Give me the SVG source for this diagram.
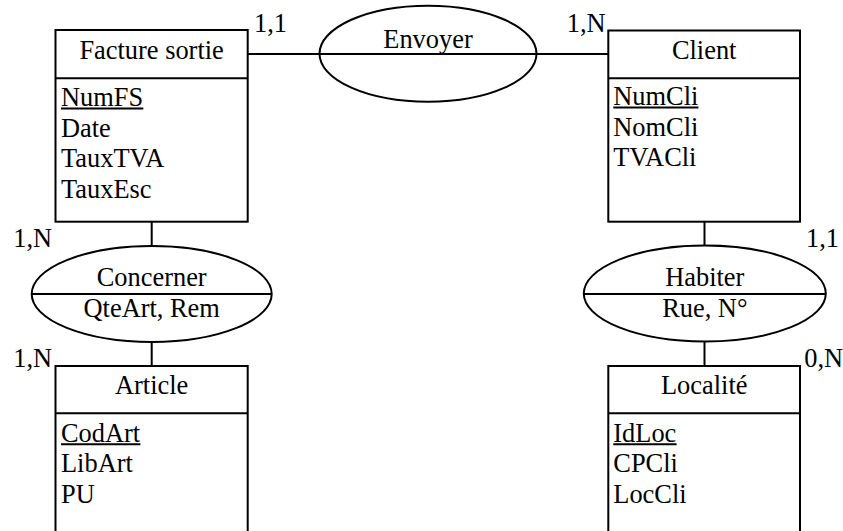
<svg xmlns="http://www.w3.org/2000/svg" width="843" height="531" viewBox="0 0 843 531">
  <style>
    text { font-family: "Liberation Serif", "Times New Roman", serif; font-size: 26.4px; fill: #000; }
    .c { text-anchor: middle; }
    .box, .rel { fill: #fff; stroke: #000; stroke-width: 2; }
    .ln { stroke: #000; stroke-width: 2; fill: none; }
    .key { stroke: #000; stroke-width: 2; }
  </style>
  <rect width="843" height="531" fill="#fff"/>

  <!-- connectors -->
  <g id="connectors">
    <line class="ln" x1="248" y1="54" x2="608" y2="54"/>
    <line class="ln" x1="151.7" y1="222" x2="151.7" y2="246"/>
    <line class="ln" x1="151.7" y1="342" x2="151.7" y2="366"/>
    <line class="ln" x1="704.5" y1="222" x2="704.5" y2="246"/>
    <line class="ln" x1="704.5" y1="342" x2="704.5" y2="366"/>
  </g>

  <!-- entities -->
  <g id="facture-sortie">
    <rect class="box" x="55.5" y="30" width="192.2" height="191.7"/>
    <line class="ln" x1="55.5" y1="78.3" x2="247.7" y2="78.3"/>
    <text class="c" x="151.6" y="59.3">Facture sortie</text>
    <text x="61" y="106">NumFS</text>
    <line class="key" x1="61" y1="108.6" x2="143.3" y2="108.6"/>
    <text x="61" y="136.6">Date</text>
    <text x="61" y="167">TauxTVA</text>
    <text x="61" y="197.5">TauxEsc</text>
  </g>

  <g id="client">
    <rect class="box" x="608.3" y="30.5" width="191.7" height="191.2"/>
    <line class="ln" x1="608.3" y1="78.3" x2="800" y2="78.3"/>
    <text class="c" x="704.2" y="59.3">Client</text>
    <text x="613.3" y="105">NumCli</text>
    <line class="key" x1="613.3" y1="107.6" x2="698.4" y2="107.6"/>
    <text x="613.3" y="135.6">NomCli</text>
    <text x="613.3" y="166">TVACli</text>
  </g>

  <g id="article">
    <rect class="box" x="55.5" y="366" width="192.2" height="180"/>
    <line class="ln" x1="55.5" y1="413.3" x2="247.7" y2="413.3"/>
    <text class="c" x="151.6" y="394">Article</text>
    <text x="61" y="441.7">CodArt</text>
    <line class="key" x1="61" y1="444.3" x2="140.4" y2="444.3"/>
    <text x="61" y="471.7">LibArt</text>
    <text x="61" y="502.7">PU</text>
  </g>

  <g id="localite">
    <rect class="box" x="608.3" y="366" width="191.7" height="180"/>
    <line class="ln" x1="608.3" y1="413.3" x2="800" y2="413.3"/>
    <text class="c" x="704.2" y="394">Localité</text>
    <text x="613.3" y="441.7">IdLoc</text>
    <line class="key" x1="613.3" y1="444.3" x2="676.6" y2="444.3"/>
    <text x="613.3" y="471.7">CPCli</text>
    <text x="613.3" y="502.7">LocCli</text>
  </g>

  <!-- associations -->
  <g id="envoyer">
    <ellipse class="rel" cx="428" cy="53.7" rx="108.5" ry="48"/>
    <line class="ln" x1="319.5" y1="54" x2="536.5" y2="54"/>
    <text class="c" x="428" y="47.7">Envoyer</text>
  </g>

  <g id="concerner">
    <ellipse class="rel" cx="151.7" cy="294" rx="120" ry="48"/>
    <line class="ln" x1="31.7" y1="294" x2="271.7" y2="294"/>
    <text class="c" x="151.7" y="286">Concerner</text>
    <text class="c" x="151.7" y="316.7">QteArt, Rem</text>
  </g>

  <g id="habiter">
    <ellipse class="rel" cx="704.8" cy="293.5" rx="121" ry="48"/>
    <line class="ln" x1="583.8" y1="294" x2="825.8" y2="294"/>
    <text class="c" x="704.8" y="286">Habiter</text>
    <text class="c" x="704.8" y="316.7">Rue, N°</text>
  </g>

  <!-- cardinalities -->
  <g id="cardinalities">
    <text x="254" y="32.3">1,1</text>
    <text x="566.7" y="31.7">1,N</text>
    <text x="13.3" y="247.3">1,N</text>
    <text x="13.3" y="366.7">1,N</text>
    <text x="806" y="247.3">1,1</text>
    <text x="804.3" y="366.7">0,N</text>
  </g>
</svg>
